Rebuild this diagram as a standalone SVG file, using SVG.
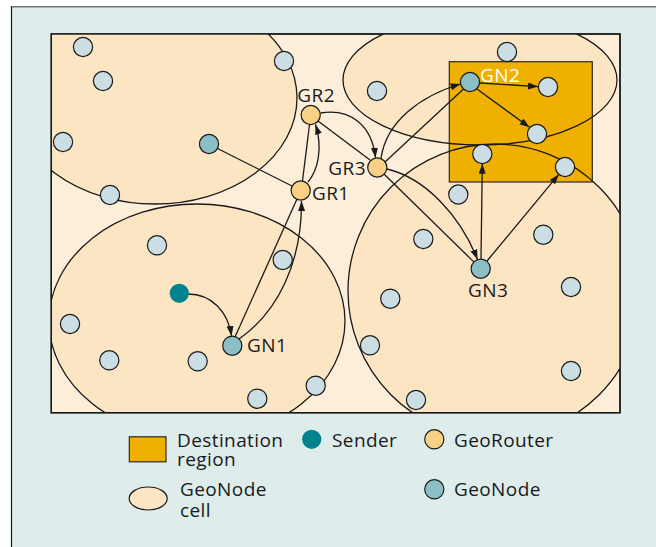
<svg xmlns="http://www.w3.org/2000/svg" width="656" height="547" viewBox="0 0 656 547">
  <defs>
    <style>
      .panel { fill: #deecec; }
      .frame { fill: #fdeed9; stroke: #1a1a1a; stroke-width: 1.4; }
      .cell-fill { fill: #fce5c3; stroke: none; }
      .cell-edge { fill: none; stroke: #1a1a1a; stroke-width: 1.3; }
      .dest { fill: #f0b000; stroke: #2a2a2a; stroke-width: 1.2; }
      .node { stroke: #1a1a1a; stroke-width: 1.2; }
      .plain { fill: #cadee4; }
      .geonode { fill: #8bbec5; }
      .router { fill: #f8d185; }
      .sender { fill: #00838f; stroke: none; }
      .link { fill: none; stroke: #1a1a1a; stroke-width: 1.3; }
      .arrow { marker-end: url(#head); }
      .label { font-family: "Open Sans", "DejaVu Sans", sans-serif; font-size: 19px; letter-spacing: 0.4px; fill: #1a1a1a; }
      .label-light { fill: #ffffff; }
    </style>
    <marker id="head" markerUnits="userSpaceOnUse" markerWidth="11" markerHeight="8" refX="10" refY="3.5" orient="auto">
      <path d="M0,0 L10,3.5 L0,7 Z" fill="#1a1a1a"/>
    </marker>
    <clipPath id="area">
      <rect x="51.3" y="34" width="568.7" height="378.7"/>
    </clipPath>
    <circle id="dot" r="9.6"/>
  </defs>

  <!-- panel background and its edges -->
  <rect class="panel" x="11.5" y="6.5" width="644.5" height="540.5"/>
  <line x1="11" y1="6.7" x2="656" y2="6.7" stroke="#777777" stroke-width="1.4"/>
  <line x1="11.5" y1="6" x2="11.5" y2="547" stroke="#1a1a1a" stroke-width="1.2"/>

  <!-- field -->
  <rect class="frame" x="51.3" y="34" width="568.7" height="378.7"/>

  <!-- GeoNode cells: fills, destination region, then outlines -->
  <g id="cells" clip-path="url(#area)">
    <ellipse class="cell-fill" cx="155" cy="98" rx="142" ry="106"/>
    <ellipse class="cell-fill" cx="197" cy="321" rx="148" ry="117"/>
    <ellipse class="cell-fill" cx="480" cy="80" rx="137" ry="65"/>
    <circle class="cell-fill" cx="495" cy="291" r="147"/>
  </g>
  <g id="destination-region">
    <rect class="dest" x="449.3" y="61.7" width="143" height="120.3"/>
  </g>
  <g id="cell-outlines" clip-path="url(#area)">
    <ellipse class="cell-edge" cx="155" cy="98" rx="142" ry="106"/>
    <ellipse class="cell-edge" cx="197" cy="321" rx="148" ry="117"/>
    <ellipse class="cell-edge" cx="480" cy="80" rx="137" ry="65"/>
    <circle class="cell-edge" cx="495" cy="291" r="147"/>
  </g>
  <rect x="51.3" y="34" width="568.7" height="378.7" fill="none" stroke="#1a1a1a" stroke-width="1.4"/>

  <!-- connectors -->
  <g id="connectors">
    <path class="link arrow" d="M188,294 C212,294 228,312 231.5,336"/>
    <path class="link" d="M235,337 L297,199"/>
    <path class="link arrow" d="M239,339 C278,312 302,262 301.5,201"/>
    <path class="link" d="M302.5,181 L309.5,124.5"/>
    <path class="link arrow" d="M308,182 C318,170 323,148 315.5,124.5"/>
    <path class="link" d="M217.5,148.5 L292,186"/>
    <path class="link arrow" d="M320.5,113 C350,108 372,125 375.5,157.8"/>
    <path class="link" d="M318,121 L370,160"/>
    <path class="link arrow" d="M381,158.5 C386,122 420,96 460.5,84"/>
    <path class="link" d="M385,162 L463.5,89"/>
    <path class="link" d="M384.2,174.3 L473.8,261.9"/>
    <path class="link arrow" d="M387,169 C425,178 460,215 477.5,259.5"/>
    <path class="link arrow" d="M480,83 L538,86.6"/>
    <path class="link arrow" d="M477,89 L529.5,127.3"/>
    <path class="link arrow" d="M481,259 L482.3,163.8"/>
    <path class="link arrow" d="M487,261 L558.8,174.4"/>
  </g>

  <!-- plain GeoNodes -->
  <g id="n1"><use href="#dot" class="node plain" x="83" y="47"/></g>
  <g id="n2"><use href="#dot" class="node plain" x="103" y="81"/></g>
  <g id="n3"><use href="#dot" class="node plain" x="284" y="61"/></g>
  <g id="n4"><use href="#dot" class="node plain" x="63" y="142"/></g>
  <g id="n5"><use href="#dot" class="node plain" x="110" y="195"/></g>
  <g id="n6"><use href="#dot" class="node plain" x="377" y="91"/></g>
  <g id="n7"><use href="#dot" class="node plain" x="507" y="52"/></g>
  <g id="n8"><use href="#dot" class="node plain" x="548" y="87"/></g>
  <g id="n9"><use href="#dot" class="node plain" x="537" y="134"/></g>
  <g id="n10"><use href="#dot" class="node plain" x="482.3" y="154"/></g>
  <g id="n11"><use href="#dot" class="node plain" x="565" y="167"/></g>
  <g id="n12"><use href="#dot" class="node plain" x="458.3" y="194.5"/></g>
  <g id="n13"><use href="#dot" class="node plain" x="423.3" y="239"/></g>
  <g id="n14"><use href="#dot" class="node plain" x="543.3" y="234.7"/></g>
  <g id="n15"><use href="#dot" class="node plain" x="571" y="287"/></g>
  <g id="n16"><use href="#dot" class="node plain" x="390.3" y="298.7"/></g>
  <g id="n17"><use href="#dot" class="node plain" x="370" y="345.3"/></g>
  <g id="n18"><use href="#dot" class="node plain" x="571" y="371"/></g>
  <g id="n19"><use href="#dot" class="node plain" x="416" y="400"/></g>
  <g id="n20"><use href="#dot" class="node plain" x="157" y="245.3"/></g>
  <g id="n21"><use href="#dot" class="node plain" x="282.7" y="260"/></g>
  <g id="n22"><use href="#dot" class="node plain" x="70" y="324"/></g>
  <g id="n23"><use href="#dot" class="node plain" x="109.3" y="360.3"/></g>
  <g id="n24"><use href="#dot" class="node plain" x="197.7" y="361.3"/></g>
  <g id="n25"><use href="#dot" class="node plain" x="257.3" y="398.7"/></g>
  <g id="n26"><use href="#dot" class="node plain" x="315.7" y="385.7"/></g>

  <!-- teal GeoNodes -->
  <g id="gn-left"><use href="#dot" class="node geonode" x="209" y="144"/></g>
  <g id="gn1">
    <use href="#dot" class="node geonode" x="232.3" y="345.7"/>
    <text class="label" x="247" y="352">GN1</text>
  </g>
  <g id="gn2">
    <use href="#dot" class="node geonode" x="470" y="82"/>
    <text class="label label-light" x="480" y="81.7">GN2</text>
  </g>
  <g id="gn3">
    <use href="#dot" class="node geonode" x="480.7" y="268.7"/>
    <text class="label" x="468" y="297">GN3</text>
  </g>

  <!-- GeoRouters -->
  <g id="gr1">
    <use href="#dot" class="node router" x="300.7" y="190.5"/>
    <text class="label" x="312" y="200">GR1</text>
  </g>
  <g id="gr2">
    <use href="#dot" class="node router" x="310.7" y="115"/>
    <text class="label" x="297.3" y="101.7">GR2</text>
  </g>
  <g id="gr3">
    <use href="#dot" class="node router" x="377.3" y="167.5"/>
    <text class="label" x="328.3" y="175">GR3</text>
  </g>

  <!-- sender -->
  <g id="sender"><use href="#dot" class="sender" x="179.3" y="293.3"/></g>

  <!-- legend -->
  <g id="legend">
    <rect class="dest" x="129.3" y="436.8" width="36.7" height="25"/>
    <text class="label" x="177" y="446.7">Destination</text>
    <text class="label" x="177" y="466">region</text>
    <use href="#dot" class="sender" x="311.7" y="439.3"/>
    <text class="label" x="332" y="446.7">Sender</text>
    <use href="#dot" class="node router" x="434.3" y="439.3"/>
    <text class="label" x="454" y="446.7">GeoRouter</text>
    <ellipse cx="148.2" cy="498.5" rx="19" ry="11.5" fill="#fce5c3" stroke="#1a1a1a" stroke-width="1.2"/>
    <text class="label" x="180" y="496">GeoNode</text>
    <text class="label" x="180" y="517">cell</text>
    <use href="#dot" class="node geonode" x="434.3" y="489.3"/>
    <text class="label" x="454" y="496">GeoNode</text>
  </g>
</svg>
